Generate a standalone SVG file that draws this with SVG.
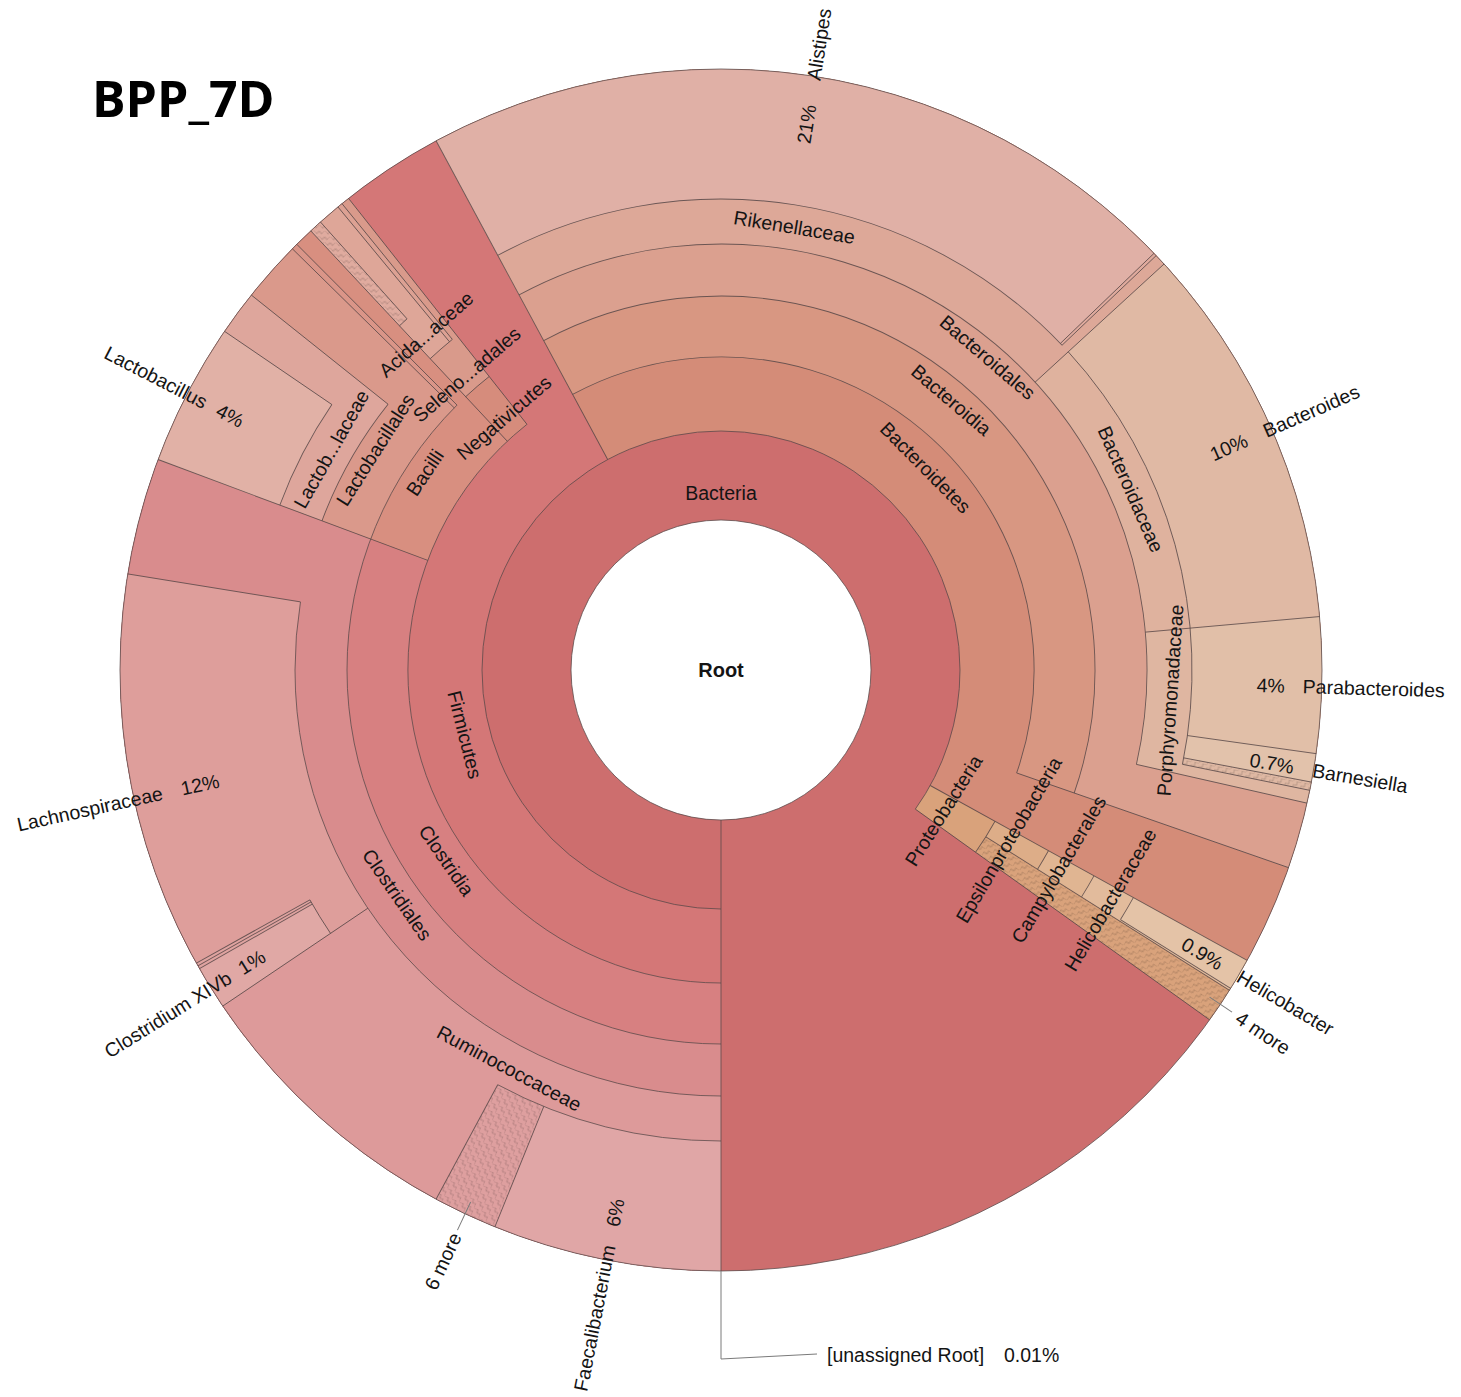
<svg xmlns="http://www.w3.org/2000/svg" width="1461" height="1397" viewBox="0 0 1461 1397">
<style>
.ln{fill:none;stroke:#574848;stroke-opacity:.85;stroke-width:.9}
.rl{stroke:#574848;stroke-opacity:.85;stroke-width:.9}
.ld{fill:none;stroke:#7a7a7a;stroke-width:1}
text{font-family:"Liberation Sans",Arial,sans-serif;font-size:19.5px;fill:#141414}
.t{text-anchor:middle;dominant-baseline:central}
.s{text-anchor:start;dominant-baseline:central}
.e{text-anchor:end;dominant-baseline:central}
</style>
<defs>
<path id="f420" fill="none" pathLength="360" d="M1141 670A420 420 0 1 1 301 670A420 420 0 1 1 1141 670"/>
<path id="f457" fill="none" pathLength="360" d="M1178 670A457 457 0 1 1 264 670A457 457 0 1 1 1178 670"/>
<path id="f487" fill="none" pathLength="360" d="M1208.5 670A487.5 487.5 0 1 1 233.5 670A487.5 487.5 0 1 1 1208.5 670"/>
<path id="f513" fill="none" pathLength="360" d="M1234.5 670A513.5 513.5 0 1 1 207.5 670A513.5 513.5 0 1 1 1234.5 670"/>
<path id="f536" fill="none" pathLength="360" d="M1257 670A536 536 0 1 1 185 670A536 536 0 1 1 1257 670"/>
<path id="a239" fill="none" pathLength="360" d="M960 670A239 239 0 1 1 482 670A239 239 0 1 1 960 670"/>
<path id="a313" fill="none" pathLength="360" d="M1034 670A313 313 0 1 1 408 670A313 313 0 1 1 1034 670"/>
<path id="a374" fill="none" pathLength="360" d="M1095 670A374 374 0 1 1 347 670A374 374 0 1 1 1095 670"/>
<path id="a426" fill="none" pathLength="360" d="M1147 670A426 426 0 1 1 295 670A426 426 0 1 1 1147 670"/>
<path id="a471" fill="none" pathLength="360" d="M1192 670A471 471 0 1 1 250 670A471 471 0 1 1 1192 670"/>
<pattern id="hatch" width="8" height="8" patternUnits="userSpaceOnUse">
<path d="M0 8V4H4V0H8" fill="none" stroke="#000" stroke-opacity=".16" stroke-width="1"/>
</pattern>
</defs>

<text x="92" y="117" style="font-family:'Open Sans','Noto Sans',sans-serif;font-weight:700;font-size:50px;fill:#000">BPP_7D</text>

<g id="node-bacteria"><circle cx="721" cy="670" r="601" fill="#cd6e6e"/></g>
<g id="node-root"><circle cx="721" cy="670" r="150" fill="#fff"/></g>

<g id="node-firmicutes"><use href="#f420" stroke="#d47777" stroke-width="362" stroke-dasharray="151.7 360" transform="rotate(90 721 670)"/></g>
<g id="node-clostridia"><use href="#f457" stroke="#d78081" stroke-width="288" stroke-dasharray="110.5 360" transform="rotate(90 721 670)"/></g>
<g id="node-clostridiales"><use href="#f487" stroke="#d98c8d" stroke-width="227" stroke-dasharray="110.5 360" transform="rotate(90 721 670)"/></g>
<g id="node-ruminococcaceae"><use href="#f513" stroke="#dd9a9a" stroke-width="175" stroke-dasharray="56 360" transform="rotate(90 721 670)"/></g>
<g id="node-faecalibacterium"><use href="#f536" stroke="#e0a6a6" stroke-width="130" stroke-dasharray="22.1 360" transform="rotate(90 721 670)"/></g>
<g id="node-ruminococcaceae-more">
<use href="#f536" stroke="#de9f9f" stroke-width="130" stroke-dasharray="6.2 360" transform="rotate(112.1 721 670)"/>
<use href="#f536" stroke="url(#hatch)" stroke-width="130" stroke-dasharray="6.2 360" transform="rotate(112.1 721 670)"/>
</g>
<g id="node-lachnospiraceae"><use href="#f513" stroke="#de9e9b" stroke-width="175" stroke-dasharray="43.2 360" transform="rotate(146 721 670)"/></g>
<g id="node-clostridium-xivb"><use href="#f536" stroke="#e0a8a5" stroke-width="130" stroke-dasharray="4.2 360" transform="rotate(146 721 670)"/></g>
<g id="node-lachnospiraceae-minor">
<use href="#f536" stroke="#dfa3a0" stroke-width="130" stroke-dasharray="0.3 360" transform="rotate(150.2 721 670)"/>
<use href="#f536" stroke="#dfa3a0" stroke-width="130" stroke-dasharray="0.3 360" transform="rotate(150.5 721 670)"/>
</g>
<g id="node-bacilli"><use href="#f457" stroke="#d88f80" stroke-width="288" stroke-dasharray="26.45 360" transform="rotate(200.5 721 670)"/></g>
<g id="node-lactobacillales"><use href="#f487" stroke="#da998b" stroke-width="227" stroke-dasharray="24 360" transform="rotate(200.5 721 670)"/></g>
<g id="node-lactobacillaceae"><use href="#f513" stroke="#dea69c" stroke-width="175" stroke-dasharray="18.1 360" transform="rotate(200.5 721 670)"/></g>
<g id="node-lactobacillus"><use href="#f536" stroke="#e1b1a6" stroke-width="130" stroke-dasharray="13.8 360" transform="rotate(200.5 721 670)"/></g>
<g id="node-bacilli-minor"><use href="#f487" stroke="#da9588" stroke-width="227" stroke-dasharray="0.6 360" transform="rotate(224.5 721 670)"/></g>
<g id="node-negativicutes"><use href="#f457" stroke="#d68c7c" stroke-width="288" stroke-dasharray="4.75 360" transform="rotate(226.95 721 670)"/></g>
<g id="node-selenomonadales"><use href="#f487" stroke="#d99a8b" stroke-width="227" stroke-dasharray="4.75 360" transform="rotate(226.95 721 670)"/></g>
<g id="node-acidaminococcaceae"><use href="#f513" stroke="#dea698" stroke-width="175" stroke-dasharray="3.45 360" transform="rotate(226.95 721 670)"/></g>
<g id="node-acidaminococcaceae-more">
<use href="#f536" stroke="#e0ab9f" stroke-width="130" stroke-dasharray="1.25 360" transform="rotate(226.95 721 670)"/>
<use href="#f536" stroke="url(#hatch)" stroke-width="130" stroke-dasharray="1.25 360" transform="rotate(226.95 721 670)"/>
</g>
<g id="node-selenomonadales-minor"><use href="#f513" stroke="#dca193" stroke-width="175" stroke-dasharray="0.5 360" transform="rotate(230.4 721 670)"/></g>

<g id="node-bacteroidetes"><use href="#f420" stroke="#d48c78" stroke-width="362" stroke-dasharray="147.2 360" transform="rotate(241.7 721 670)"/></g>
<g id="node-bacteroidia"><use href="#f457" stroke="#d89782" stroke-width="288" stroke-dasharray="137.5 360" transform="rotate(241.7 721 670)"/></g>
<g id="node-bacteroidales"><use href="#f487" stroke="#dba08f" stroke-width="227" stroke-dasharray="137.5 360" transform="rotate(241.7 721 670)"/></g>
<g id="node-rikenellaceae"><use href="#f513" stroke="#dda898" stroke-width="175" stroke-dasharray="75.8 360" transform="rotate(241.7 721 670)"/></g>
<g id="node-alistipes"><use href="#f536" stroke="#e0b0a6" stroke-width="130" stroke-dasharray="74.4 360" transform="rotate(241.7 721 670)"/></g>
<g id="node-rikenellaceae-minor"><use href="#f536" stroke="#dfaa9d" stroke-width="130" stroke-dasharray="0.3 360" transform="rotate(-43.9 721 670)"/></g>
<g id="node-bacteroidaceae"><use href="#f513" stroke="#dfb29e" stroke-width="175" stroke-dasharray="37.4 360" transform="rotate(-42.5 721 670)"/></g>
<g id="node-bacteroides"><use href="#f536" stroke="#e0b9a4" stroke-width="130" stroke-dasharray="37.4 360" transform="rotate(-42.5 721 670)"/></g>
<g id="node-porphyromonadaceae"><use href="#f513" stroke="#dfb6a1" stroke-width="175" stroke-dasharray="17.9 360" transform="rotate(-5.1 721 670)"/></g>
<g id="node-parabacteroides"><use href="#f536" stroke="#e1bfa8" stroke-width="130" stroke-dasharray="13.1 360" transform="rotate(-5.1 721 670)"/></g>
<g id="node-barnesiella"><use href="#f536" stroke="#e2c2ab" stroke-width="130" stroke-dasharray="2.75 360" transform="rotate(8 721 670)"/></g>
<g id="node-porphyromonadaceae-more">
<use href="#f536" stroke="#dfb8a3" stroke-width="130" stroke-dasharray="0.8 360" transform="rotate(10.75 721 670)"/>
<use href="#f536" stroke="url(#hatch)" stroke-width="130" stroke-dasharray="0.8 360" transform="rotate(10.75 721 670)"/>
</g>

<g id="node-proteobacteria"><use href="#f420" stroke="#d9a27b" stroke-width="362" stroke-dasharray="6.7 360" transform="rotate(28.9 721 670)"/></g>
<g id="node-epsilonproteobacteria"><use href="#f457" stroke="#ddad88" stroke-width="288" stroke-dasharray="3.3 360" transform="rotate(28.9 721 670)"/></g>
<g id="node-campylobacterales"><use href="#f487" stroke="#e0b592" stroke-width="227" stroke-dasharray="3.3 360" transform="rotate(28.9 721 670)"/></g>
<g id="node-helicobacteraceae"><use href="#f513" stroke="#e2bb9c" stroke-width="175" stroke-dasharray="3.3 360" transform="rotate(28.9 721 670)"/></g>
<g id="node-helicobacter"><use href="#f536" stroke="#e4c3a7" stroke-width="130" stroke-dasharray="3.1 360" transform="rotate(28.9 721 670)"/></g>
<g id="node-proteobacteria-more">
<use href="#f457" stroke="#d9a27b" stroke-width="288" stroke-dasharray="3.4 360" transform="rotate(32.2 721 670)"/>
<use href="#f457" stroke="url(#hatch)" stroke-width="288" stroke-dasharray="3.4 360" transform="rotate(32.2 721 670)"/>
</g>

<g id="connectors">
<circle class="ln" cx="721" cy="670" r="601"/>
<circle class="ln" cx="721" cy="670" r="150"/>
<use href="#a239" class="ln" stroke-dasharray="305.6 360" transform="rotate(90 721 670)"/>
<use href="#a313" class="ln" stroke-dasharray="141.7 360" transform="rotate(90 721 670)"/>
<use href="#a313" class="ln" stroke-dasharray="137.5 360" transform="rotate(241.7 721 670)"/>
<use href="#a313" class="ln" stroke-dasharray="6.7 360" transform="rotate(28.9 721 670)"/>
<use href="#a374" class="ln" stroke-dasharray="135.1 360" transform="rotate(90 721 670)"/>
<use href="#a374" class="ln" stroke-dasharray="4.75 360" transform="rotate(226.95 721 670)"/>
<use href="#a374" class="ln" stroke-dasharray="137.5 360" transform="rotate(241.7 721 670)"/>
<use href="#a374" class="ln" stroke-dasharray="3.3 360" transform="rotate(28.9 721 670)"/>
<use href="#a426" class="ln" stroke-dasharray="99.2 360" transform="rotate(90 721 670)"/>
<use href="#a426" class="ln" stroke-dasharray="18.1 360" transform="rotate(200.5 721 670)"/>
<use href="#a426" class="ln" stroke-dasharray="3.95 360" transform="rotate(226.95 721 670)"/>
<use href="#a426" class="ln" stroke-dasharray="131.1 360" transform="rotate(241.7 721 670)"/>
<use href="#a426" class="ln" stroke-dasharray="3.3 360" transform="rotate(28.9 721 670)"/>
<use href="#a471" class="ln" stroke-dasharray="28.3 360" transform="rotate(90 721 670)"/>
<use href="#a471" class="ln" stroke-dasharray="4.8 360" transform="rotate(146 721 670)"/>
<use href="#a471" class="ln" stroke-dasharray="13.8 360" transform="rotate(200.5 721 670)"/>
<use href="#a471" class="ln" stroke-dasharray="1.25 360" transform="rotate(226.95 721 670)"/>
<use href="#a471" class="ln" stroke-dasharray="74.7 360" transform="rotate(241.7 721 670)"/>
<use href="#a471" class="ln" stroke-dasharray="54.05 360" transform="rotate(-42.5 721 670)"/>
<use href="#a471" class="ln" stroke-dasharray="3.1 360" transform="rotate(28.9 721 670)"/>

<line class="rl" x1="721" y1="69" x2="721" y2="520" transform="rotate(180 721 670)"/>
<line class="rl" x1="721" y1="69" x2="721" y2="431" transform="rotate(331.7 721 670)"/>
<line class="rl" x1="721" y1="69" x2="721" y2="357" transform="rotate(290.5 721 670)"/>
<line class="rl" x1="721" y1="69" x2="721" y2="244" transform="rotate(236 721 670)"/>
<line class="rl" x1="721" y1="69" x2="721" y2="199" transform="rotate(202.1 721 670)"/>
<line class="rl" x1="721" y1="69" x2="721" y2="199" transform="rotate(208.3 721 670)"/>
<line class="rl" x1="721" y1="69" x2="721" y2="244" transform="rotate(279.2 721 670)"/>
<line class="rl" x1="721" y1="69" x2="721" y2="199" transform="rotate(240.2 721 670)"/>
<line class="rl" x1="721" y1="69" x2="721" y2="199" transform="rotate(240.5 721 670)"/>
<line class="rl" x1="721" y1="69" x2="721" y2="199" transform="rotate(240.8 721 670)"/>
<line class="rl" x1="721" y1="69" x2="721" y2="357" transform="rotate(316.95 721 670)"/>
<line class="rl" x1="721" y1="69" x2="721" y2="296" transform="rotate(314.5 721 670)"/>
<line class="rl" x1="721" y1="69" x2="721" y2="244" transform="rotate(308.6 721 670)"/>
<line class="rl" x1="721" y1="69" x2="721" y2="199" transform="rotate(304.3 721 670)"/>
<line class="rl" x1="721" y1="69" x2="721" y2="296" transform="rotate(315.1 721 670)"/>
<line class="rl" x1="721" y1="69" x2="721" y2="357" transform="rotate(321.7 721 670)"/>
<line class="rl" x1="721" y1="69" x2="721" y2="244" transform="rotate(320.4 721 670)"/>
<line class="rl" x1="721" y1="69" x2="721" y2="244" transform="rotate(320.9 721 670)"/>
<line class="rl" x1="721" y1="69" x2="721" y2="199" transform="rotate(318.2 721 670)"/>
<line class="rl" x1="721" y1="69" x2="721" y2="431" transform="rotate(118.9 721 670)"/>
<line class="rl" x1="721" y1="69" x2="721" y2="357" transform="rotate(109.2 721 670)"/>
<line class="rl" x1="721" y1="69" x2="721" y2="244" transform="rotate(47.5 721 670)"/>
<line class="rl" x1="721" y1="69" x2="721" y2="199" transform="rotate(46.1 721 670)"/>
<line class="rl" x1="721" y1="69" x2="721" y2="199" transform="rotate(46.4 721 670)"/>
<line class="rl" x1="721" y1="69" x2="721" y2="244" transform="rotate(84.9 721 670)"/>
<line class="rl" x1="721" y1="69" x2="721" y2="199" transform="rotate(98 721 670)"/>
<line class="rl" x1="721" y1="69" x2="721" y2="199" transform="rotate(100.75 721 670)"/>
<line class="rl" x1="721" y1="69" x2="721" y2="199" transform="rotate(101.55 721 670)"/>
<line class="rl" x1="721" y1="69" x2="721" y2="244" transform="rotate(102.8 721 670)"/>
<line class="rl" x1="721" y1="69" x2="721" y2="431" transform="rotate(125.6 721 670)"/>
<line class="rl" x1="721" y1="69" x2="721" y2="357" transform="rotate(122.2 721 670)"/>
<line class="rl" x1="721" y1="69" x2="721" y2="199" transform="rotate(122 721 670)"/>

<polyline class="ld" points="721,1271 721,1359 817,1354"/>
<line class="ld" x1="721" y1="82" x2="721" y2="55" transform="rotate(123.8 721 670)"/>
<line class="ld" x1="721" y1="82" x2="721" y2="51" transform="rotate(205.2 721 670)"/>
</g>

<g id="labels">
<text class="t" x="721" y="670" style="font-weight:700;font-size:20px">Root</text>
<text class="t" x="721" y="493">Bacteria</text>
<text class="t" x="721" y="382" transform="rotate(45.3 721 670)">Bacteroidetes</text>
<text class="t" x="721" y="315" transform="rotate(40.45 721 670)">Bacteroidia</text>
<text class="t" x="721" y="259" transform="rotate(40.45 721 670)">Bacteroidales</text>
<text class="t" x="721" y="221" transform="rotate(9.4 721 670)">Rikenellaceae</text>
<text class="t" x="721" y="222" transform="rotate(66.2 721 670)">Bacteroidaceae</text>
<text class="t" x="721" y="314" transform="rotate(303.7 721 670)">Bacilli</text>
<text class="t" x="721" y="260" transform="rotate(302.5 721 670)">Lactobacillales</text>
<text class="t" x="721" y="222" transform="rotate(299.55 721 670)">Lactob...laceae</text>
<text class="t" x="721" y="337" transform="rotate(319.3 721 670)">Negativicutes</text>
<text class="t" x="721" y="280" transform="rotate(319.3 721 670)">Seleno...adales</text>
<text class="t" x="721" y="223" transform="rotate(318.7 721 670)">Acida...aceae</text>

<text class="t" x="721" y="1120" transform="rotate(-86.15 721 670)">Porphyromonadaceae</text>
<text class="t" x="721" y="933" transform="rotate(-57.75 721 670)">Proteobacteria</text>
<text class="t" x="721" y="1004" transform="rotate(-59.45 721 670)">Epsilonproteobacteria</text>
<text class="t" x="721" y="1062" transform="rotate(-59.45 721 670)">Campylobacterales</text>
<text class="t" x="721" y="1122" transform="rotate(-59.45 721 670)">Helicobacteraceae</text>
<text class="t" x="721" y="934" transform="rotate(75.85 721 670)">Firmicutes</text>
<text class="t" x="721" y="1004" transform="rotate(55.25 721 670)">Clostridia</text>
<text class="t" x="721" y="1064" transform="rotate(55.25 721 670)">Clostridiales</text>
<text class="t" x="721" y="1121" transform="rotate(28 721 670)">Ruminococcaceae</text>

<g transform="rotate(-81.1 721 670)"><text class="e" x="1293" y="670">21%</text><text class="s" x="1318" y="670">Alistipes</text></g>
<g transform="rotate(-23.7 721 670)"><text class="e" x="1295" y="670">10%</text><text class="s" x="1314" y="670">Bacteroides</text></g>
<g transform="rotate(1.6 721 670)"><text class="e" x="1285" y="670">4%</text><text class="s" x="1303" y="670">Parabacteroides</text></g>
<g transform="rotate(9.6 721 670)"><text class="e" x="1302" y="670">0.7%</text><text class="s" x="1321" y="670">Barnesiella</text></g>
<g transform="rotate(30.5 721 670)"><text class="e" x="1302" y="670">0.9%</text><text class="s" x="1322" y="670">Helicobacter</text></g>
<g transform="rotate(33.8 721 670)"><text class="s" x="1343" y="670">4 more</text></g>

<g transform="rotate(-78.95 721 670)"><text class="e" x="135" y="670">Faecalibacterium</text><text class="s" x="154" y="670">6%</text></g>
<g transform="rotate(-64.8 721 670)"><text class="e" x="98" y="670">6 more</text></g>
<g transform="rotate(-31.9 721 670)"><text class="e" x="142" y="670">Clostridium XIVb</text><text class="s" x="154" y="670">1%</text></g>
<g transform="rotate(-12.4 721 670)"><text class="e" x="149" y="670">Lachnospiraceae</text><text class="s" x="168" y="670">12%</text></g>
<g transform="rotate(27.4 721 670)"><text class="e" x="141" y="670">Lactobacillus</text><text class="s" x="154" y="670">4%</text></g>

<text class="s" x="827" y="1355">[unassigned Root]</text>
<text class="s" x="1004" y="1355">0.01%</text>
</g>
</svg>
